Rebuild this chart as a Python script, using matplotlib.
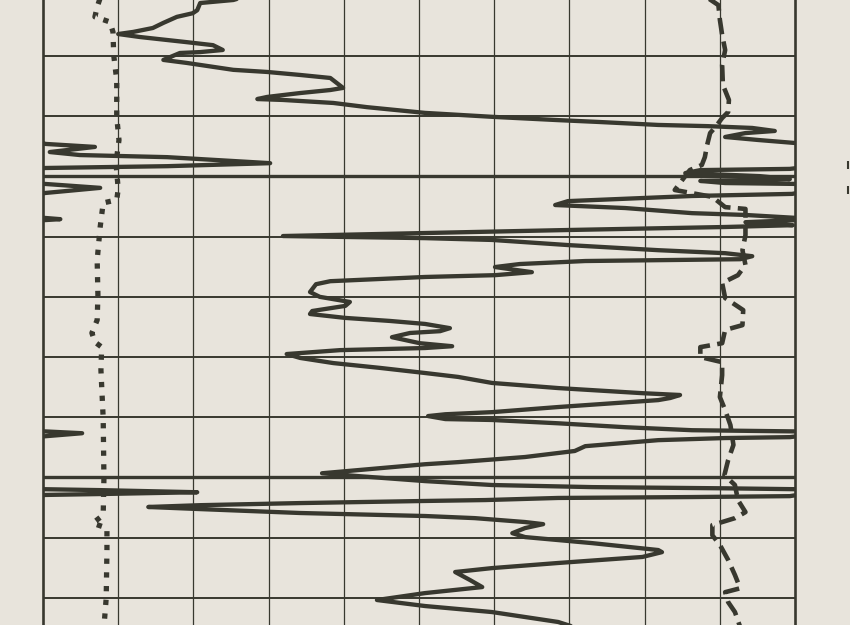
import numpy as np
import matplotlib.pyplot as plt
from matplotlib.patches import Rectangle

# main log curve: depth (grid lines every 10) and value in track divisions (0-10),
# values above 10 are the backup trace that wraps to the left side of the track
main_depth = [0.37, 0.7, 1.2, 2.4, 2.9, 3.5, 4.5, 5.35, 6.0, 6.35, 6.85, 7.7, 8.2, 9.0, 9.35, 9.5,
              10.65, 11.15, 12.3, 12.65, 13.15, 13.65, 15.3, 15.65, 16.15, 16.8, 17.15, 17.3, 17.8,
              18.5, 19.45, 20.1, 20.65, 20.95, 21.45, 21.65, 21.95, 22.45, 22.8, 23.45, 23.95, 24.45,
              24.6, 25.1, 25.95, 26.45, 26.8, 27.8, 28.3, 28.6, 28.75, 28.95, 29.45, 29.95, 30.45,
              30.75, 31.1, 31.25, 31.9, 32.75, 32.9, 33.25, 34.1, 34.75, 35.25, 36.1, 36.4, 36.9,
              37.1, 37.25, 37.6, 38.1, 38.4, 38.9, 39.4, 39.9, 40.25, 40.55, 41.4, 42.25, 42.75,
              43.25, 43.75, 43.9, 44.05, 44.55, 45.05, 45.9, 46.4, 46.7, 47.4, 47.9, 49.2, 50.0,
              50.85, 51.5, 52.35, 52.85, 53.5, 54.0, 54.5, 55.2, 55.7, 56.0, 56.7, 57.7, 58.2, 58.5,
              58.85, 59.5, 60.15, 61.0, 61.8, 62.65, 63.3, 64.3, 65.15, 66.0, 66.3, 66.8, 67.15,
              68.3, 69.15, 69.5, 69.8, 70.3, 70.45, 71.0, 71.65, 72.15, 72.35, 72.65, 73.15, 73.3,
              73.45, 73.8, 74.8, 75.6, 76.6, 77.45, 77.8, 79.3, 79.8, 80.6, 81.25, 81.6, 81.8,
              81.95, 82.1, 82.45, 82.75, 82.9, 83.1, 83.25, 83.4, 83.75, 83.9, 84.25, 84.6, 84.9,
              85.25, 85.9, 86.4, 86.75, 87.4, 87.75, 88.4, 89.25, 89.9, 90.9, 92.05, 92.4, 93.2,
              94.2, 95.05, 95.7, 97.05, 98.2, 99.2, 100.35, 101.35, 102.35, 104.0, 105.0]
main_value = [2.62, 2.53, 2.09, 2.05, 1.99, 1.78, 1.60, 1.46, 1.20, 1.00, 1.29, 1.91, 2.26, 2.39, 2.09, 1.82,
              1.60, 1.91, 2.53, 2.98, 3.42, 3.82, 3.99, 3.82, 3.42, 2.98, 2.85, 3.19, 3.86,
              4.31, 5.08, 5.97, 6.85, 7.38, 8.18, 8.84, 9.43, 9.73, 9.34, 9.07, 9.51, 10.0,
              10.03, 10.69, 10.09, 10.49, 11.65, 13.02, 11.65, 10.03, 9.93, 8.74, 8.54, 9.53, 9.93,
              8.74, 9.07, 10.03, 10.76, 10.03, 9.96, 8.63, 6.98, 6.81, 7.74, 8.63, 9.34, 10.03,
              10.23, 10.03, 9.34, 9.97, 9.07, 6.98, 5.08, 3.19, 5.08, 5.97, 6.98, 8.18, 9.07,
              9.43, 9.27, 8.18, 7.21, 6.34, 6.01, 6.50, 6.01, 5.08, 3.82, 3.63, 3.55, 3.68,
              4.08, 4.02, 3.58, 3.55, 4.02, 4.61, 5.08, 5.41, 5.28, 4.88, 4.64, 5.01, 5.44, 5.08,
              3.95, 3.24, 3.42, 3.86, 4.48, 5.08, 5.52, 5.97, 6.85, 7.97, 8.47, 8.34, 8.18,
              6.85, 5.97, 5.35, 5.12, 5.35, 5.97, 6.85, 7.74, 8.63, 10.03, 10.52, 10.03, 9.93,
              9.07, 8.18, 7.21, 7.07, 6.41, 5.52, 5.08, 3.71, 4.22, 5.08, 5.97, 7.30, 9.07,
              10.03, 10.76, 12.05, 10.76, 10.03, 9.93, 8.63, 6.85, 5.88, 5.08, 3.42, 2.09, 1.40,
              2.09, 3.42, 5.08, 5.74, 6.41, 6.65, 6.41, 6.24, 6.41, 7.30, 8.18, 8.23, 7.97,
              6.85, 5.97, 5.48, 5.68, 5.84, 5.08, 4.44, 5.08, 5.97, 6.85, 7.10]

# dotted curve near the left of the track
left_depth = [0.37, 1.85, 3.5, 4.35, 6.0, 9.85, 14.0, 20.1, 23.95, 27.8, 32.1, 33.9, 34.4, 38.4,
              43.9, 49.7, 53.85, 56.0, 57.5, 58.35, 62.15, 70.15, 80.1, 86.25, 87.6, 88.4, 92.05,
              100.05, 104.85]
left_value = [0.76, 0.72, 0.69, 0.89, 0.93, 0.94, 0.98, 0.98, 1.01, 0.97, 1.00, 0.98, 0.80, 0.76,
              0.72, 0.73, 0.72, 0.65, 0.69, 0.78, 0.77, 0.80, 0.81, 0.80, 0.66, 0.85, 0.85,
              0.84, 0.81]

# dashed curve near the right of the track
right_depth = [0.37, 1.55, 4.0, 6.5, 9.0, 11.5, 14.8, 17.3, 19.3, 20.3, 21.8, 22.8, 24.8, 26.8, 28.1,
               28.95, 30.6, 32.25, 33.4, 35.1, 35.4, 38.1, 39.75, 42.25, 44.7, 46.4, 47.7, 50.2,
               52.2, 54.7, 55.5, 57.7, 58.35, 60.0, 60.85, 63.0, 66.65, 68.8, 71.3, 74.6, 77.1,
               79.6, 81.25, 83.75, 85.75, 86.75, 87.9, 89.6, 91.2, 93.7, 96.2, 98.4, 99.05,
               100.7, 102.35, 104.85]
right_value = [8.84, 8.98, 9.00, 9.03, 9.07, 9.03, 9.04, 9.12, 9.11, 9.03, 8.94, 8.87, 8.83, 8.80, 8.76,
               8.60, 8.50, 8.40, 8.90, 9.07, 9.34, 9.34, 9.34, 9.30, 9.34, 9.24, 9.03, 9.07,
               9.31, 9.30, 9.07, 9.03, 8.74, 8.74, 9.03, 9.03, 9.00, 9.07, 9.14, 9.18, 9.11,
               9.06, 9.20, 9.24, 9.34, 9.20, 8.90, 8.90, 9.00, 9.11, 9.20, 9.27, 9.07,
               9.11, 9.20, 9.27]

# small marks beside the track on the right
mark_depth = [28.1, 32.25]

bg = '#e8e4dc'
ink = '#38382f'

fig = plt.figure(figsize=(8.5, 6.25), dpi=100)
fig.patch.set_facecolor(bg)
ax = fig.add_axes([0, 0, 1, 1])
ax.set_facecolor(bg)
ax.set_xlim(-0.572, 10.73)
ax.set_ylim(104.5, 0.7)
ax.axis('off')

# grid
for x in range(11):
    lw = 1.9 if x in (0, 10) else 0.9
    ax.axvline(x, color=ink, lw=lw, zorder=1)
for d in range(10, 101, 10):
    lw = 2.4 if d in (30, 80) else 1.4
    ax.plot([0, 10], [d, d], color=ink, lw=lw, zorder=1, solid_capstyle='butt')

track = Rectangle((0, -10), 10, 130, transform=ax.transData)

# main curve plus its wrapped backup
mv = np.array(main_value)
for shift in (0, 10):
    ln, = ax.plot(mv - shift, main_depth, color=ink, lw=3.1, zorder=3,
                  solid_joinstyle='round', solid_capstyle='round')
    ln.set_clip_path(track)

ax.plot(left_value, left_depth, color=ink, lw=3.8, linestyle=(0, (1, 1.6)),
        dash_capstyle='butt', zorder=2)
ax.plot(right_value, right_depth, color=ink, lw=3.3, linestyle=(0, (3.6, 1.6)),
        dash_capstyle='butt', zorder=2)

ax.plot([10.71] * len(mark_depth), mark_depth, linestyle='none', marker='|',
        color=ink, markersize=6, markeredgewidth=1.5)

fig.savefig('out.png', dpi=100, facecolor=bg)
